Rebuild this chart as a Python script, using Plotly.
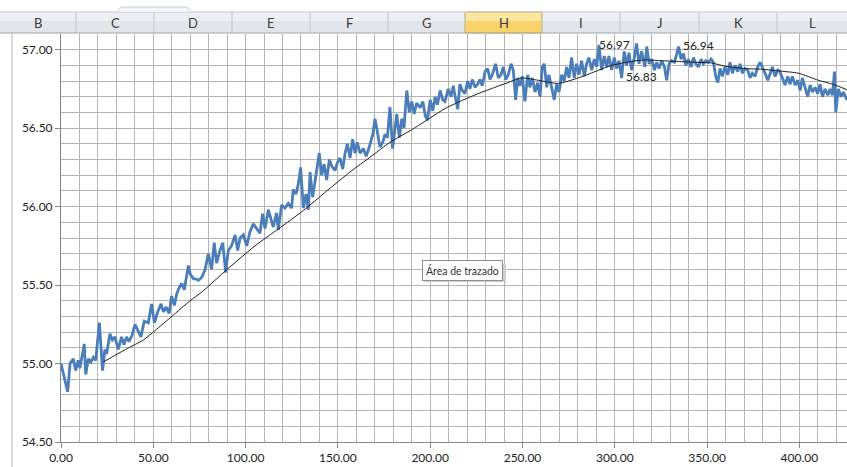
import plotly.graph_objects as go

# ---------------- data ----------------
blue_x = [0, 3.6, 4.9, 6.7, 7.9, 9.3, 10.2, 12.6, 13.4, 14.8, 16.2, 17.5, 18.8, 20.8, 22.5, 23.8, 24.7,
          26.5, 27.8, 29.2, 31, 32.8, 34.1, 35.5, 36.8, 38.5, 40.1, 41.9, 43.3, 45.1, 47.3, 49.1, 50.6,
          52.4, 54.2, 55.5, 57, 58.6, 59.9, 61.4, 62.6, 63.9, 65.4, 66.8, 68.1, 69, 70, 71.8, 73, 74.5,
          76.3, 78.1, 79.8, 81.6, 83, 84.3, 86.1, 87.6, 89.2, 90.6, 92.4, 94.3, 95.7, 97, 98.8, 100.6,
          102.4, 104.2, 106, 107.8, 109.2, 110.5, 112.3, 113.5, 115, 116.8, 117.7, 119.5, 121.3, 123.1,
          124.9, 125.8, 127.3, 128.5, 129.8, 131.3, 132.7, 134, 134.9, 136.3, 137.6, 139.9, 141.2, 142.5,
          143.9, 145.4, 146.6, 148.4, 149.7, 151.1, 152.6, 153.9, 155.1, 156.6, 158, 159.3, 160.5, 162,
          163.8, 165.3, 167, 168.9, 170.1, 171.4, 172.8, 174.3, 175.5, 176.8, 178.2, 179.6, 181, 181.9,
          183.3, 184.6, 185.8, 187.3, 188.7, 190, 191.3, 192.7, 194.5, 196, 197.3, 198.5, 200, 201.4,
          202.7, 203.9, 205.4, 206.8,
          208, 209.8, 211.3, 212.5, 213.4, 214.9, 216.1, 217.4, 218.8, 220.3, 221.5, 222.8, 224.3, 225.7,
          227, 228.2, 229.7, 231.1, 232.4, 233.6, 235.4, 236.9, 238.3, 239.6, 240.9, 242.3, 243.8, 245,
          246.3, 247.4, 248.6, 249.9, 251.3, 252.8, 254, 255.3, 256.8, 258.2, 259.5, 260.7, 261.8, 263.1,
          264.3, 265.8, 267.2, 268.5, 269.8, 271.2, 272.6, 273.9, 275.2, 276.6, 278, 279.3, 280.6, 282,
          283.5, 284.7, 286, 287.5, 288.9, 290.2, 291.4, 292.9, 294.3, 295.6, 296.8, 298.3, 299.7, 301,
          302.3, 303.7, 305.1, 306.4, 307.7, 309.1, 310.6, 311.8, 313.1, 314.5, 316.3,
          317.3, 318.6, 320, 321.5, 322.7, 324, 325.4, 326.9, 328.1, 329.4, 330.8, 332.3, 333.6, 334.5,
          335.9, 337.2, 338.4, 339.9, 341.3, 342.6, 343.9, 345.3, 346.7, 348, 349.3, 350.7, 352.2, 353.4,
          354.7, 355.8, 357, 358.3, 359.7, 361.2, 362.4, 363.7, 365.2, 366.6, 367.9, 369.1, 370.6, 372,
          373.3, 374.5, 376, 377.4, 378.7, 380, 381.4, 382.9, 384.1, 385.4, 386.8, 388.3, 389.5, 390.8,
          392.2, 393.7, 394.9, 396.2, 397.7, 399.1, 400.4, 401.6, 403.1, 404.5, 405.8, 407.1, 408.5,
          409.9, 411.2, 412.5, 413.9, 415.4, 416.6, 417.9, 419, 419.7, 421.1, 422.6, 423.8, 425.1, 425.8]

blue_y = [55.00, 54.82, 55.00, 55.03, 54.955, 55.02, 54.97, 55.125, 54.93, 55.03, 55.01, 55.04, 55.02,
          55.26, 54.955, 55.09, 55.06, 55.19, 55.15, 55.17, 55.09, 55.17, 55.12, 55.17, 55.14, 55.18,
          55.25, 55.21, 55.17, 55.27, 55.26, 55.38, 55.26, 55.33, 55.38, 55.33, 55.36, 55.32, 55.43,
          55.37, 55.44, 55.48, 55.51, 55.47, 55.55, 55.625, 55.57, 55.54, 55.54, 55.53, 55.55, 55.60,
          55.70, 55.60, 55.77, 55.64, 55.72, 55.77, 55.58, 55.72, 55.75, 55.82, 55.72, 55.80, 55.82,
          55.75, 55.84,
          55.89, 55.86, 55.83, 55.955, 55.86, 55.98, 55.93, 55.87, 55.96, 55.85, 56.01, 55.99, 56.02,
          55.99, 56.11, 56.08, 56.14, 56.25, 55.99, 56.08, 55.98, 56.22, 56.06, 56.16, 56.34, 56.20,
          56.27, 56.17, 56.30, 56.26, 56.23, 56.28, 56.31, 56.24, 56.34, 56.40, 56.31, 56.43, 56.34,
          56.41, 56.34, 56.37, 56.32, 56.38, 56.46, 56.56, 56.46, 56.38, 56.41, 56.46, 56.44, 56.635,
          56.37, 56.50, 56.59, 56.44, 56.56, 56.50, 56.74, 56.60, 56.67, 56.59, 56.66, 56.63, 56.67,
          56.58, 56.55, 56.68, 56.61, 56.70, 56.65, 56.74, 56.68,
          56.67, 56.75, 56.70, 56.77, 56.71, 56.62, 56.78, 56.74, 56.72, 56.80, 56.75, 56.81, 56.76,
          56.78, 56.81, 56.77, 56.86, 56.88, 56.81, 56.84, 56.91, 56.82, 56.84, 56.89, 56.81, 56.84,
          56.91, 56.87, 56.68, 56.82, 56.77, 56.83, 56.67, 56.84, 56.76, 56.82, 56.73, 56.79, 56.70,
          56.89, 56.91, 56.76, 56.84, 56.75, 56.68, 56.78, 56.73, 56.84, 56.80, 56.89, 56.82, 56.95,
          56.82, 56.91, 56.84, 56.93, 56.83, 56.91, 56.95, 56.87, 56.94, 56.89, 57.03, 56.87, 56.96,
          56.89, 56.96, 56.87, 56.95, 56.88, 56.93, 56.82, 56.99, 56.90, 56.98, 56.87, 56.95, 57.04,
          56.91, 56.99, 56.89,
          57.02, 56.91, 56.94, 56.87, 56.92, 56.88, 56.93, 56.89, 56.805, 56.91, 56.93, 56.92, 56.975,
          57.02, 56.94, 56.975, 56.90, 56.94, 56.89, 56.95, 56.91, 56.89, 56.94, 56.91, 56.93, 56.92,
          56.94, 56.92, 56.83, 56.79, 56.88, 56.83, 56.89, 56.84, 56.92, 56.85, 56.90, 56.86, 56.91,
          56.85, 56.88, 56.87, 56.82, 56.85, 56.83, 56.89, 56.92, 56.88, 56.85, 56.805, 56.85, 56.89,
          56.83, 56.87, 56.86, 56.82, 56.775, 56.83, 56.78, 56.83, 56.775, 56.805, 56.74, 56.82, 56.76,
          56.70, 56.775, 56.73, 56.76, 56.72, 56.78, 56.70, 56.75, 56.71, 56.75, 56.71, 56.86, 56.60,
          56.75, 56.70, 56.73, 56.69, 56.68]

# moving-average trend line (black)
ma_x = [22.9, 35, 44.6, 50.9, 60, 69.9, 76.2, 90, 105.1, 118, 131.3, 144, 156.5, 168, 178.2, 190,
        200, 208, 217, 226, 235, 242, 249.5, 258.6, 269.4, 280.2, 289.3, 298.3, 309, 316.4, 325,
        334.5, 343, 352.5, 359.7, 370.6, 380, 388.6, 399.5, 410.3, 418, 425.8]
ma_y = [55.01, 55.09, 55.15, 55.21, 55.30, 55.40, 55.455, 55.60, 55.75, 55.86, 55.975, 56.10, 56.22,
        56.32, 56.41, 56.49, 56.565, 56.625, 56.675, 56.72, 56.76, 56.79, 56.82, 56.805, 56.785, 56.82,
        56.86, 56.90, 56.925, 56.935, 56.93, 56.925, 56.92, 56.915, 56.895, 56.88, 56.875, 56.865,
        56.85, 56.805, 56.78, 56.745]

label_x = [291.4, 303.7, 337.2]
label_y = [56.97, 56.83, 56.94]
label_text = ["56.97", "56.83", "56.94"]

x_ticks = [0, 50, 100, 150, 200, 250, 300, 350, 400]
y_ticks = [54.5, 55.0, 55.5, 56.0, 56.5, 57.0]
x_tick_text = ["0.00", "50.00", "100.00", "150.00", "200.00", "250.00", "300.00", "350.00", "400.00"]
y_tick_text = ["54.50", "55.00", "55.50", "56.00", "56.50", "57.00"]

columns = ["B", "C", "D", "E", "F", "G", "H", "I", "J", "K", "L"]
selected_column = "H"

# ---------------- layout geometry (pixels) ----------------
W, H = 847, 467
ML, MR, MT, MB = 61, 0, 34, 25
PW, PH = W - ML - MR, H - MT - MB


def fx(px):
    return (px - ML) / PW


def fy(py):
    return (H - MB - py) / PH


col_edges = [0, 76, 154, 232, 310, 388, 465, 542, 620, 699, 777, 847]
hdr_top, hdr_bot = 12, 33

FONT = "Lato, 'Open Sans', sans-serif"

fig = go.Figure()
fig.add_trace(go.Scatter(x=blue_x, y=blue_y, mode="lines",
                         line=dict(color="#4a7ebb", width=2.8), hoverinfo="skip"))
fig.add_trace(go.Scatter(x=ma_x, y=ma_y, mode="lines", line_shape="spline",
                         line=dict(color="#1e1e1e", width=1, smoothing=0.6), hoverinfo="skip"))

shapes = []
annotations = []

# data labels
shifts = [(-2, 10), (2, 0), (-2, 14)]
for lx, ly, lt, (sx, sy) in zip(label_x, label_y, label_text, shifts):
    annotations.append(dict(x=lx, y=ly, xref="x", yref="y", text=lt, showarrow=False,
                            xanchor="left", yanchor="middle", xshift=sx, yshift=sy,
                            font=dict(family=FONT, size=12, color="#222222")))

# spreadsheet column header band
shapes.append(dict(type="rect", xref="paper", yref="paper", x0=fx(0), x1=fx(W),
                   y0=fy(hdr_bot), y1=fy(hdr_top), fillcolor="#e2e6eb",
                   line=dict(width=0), layer="above"))
shapes.append(dict(type="rect", xref="paper", yref="paper", x0=fx(0), x1=fx(W),
                   y0=fy(hdr_top + 9), y1=fy(hdr_top), fillcolor="#eceff3",
                   line=dict(width=0), layer="above"))
for i, c in enumerate(columns):
    x0, x1 = col_edges[i], col_edges[i + 1]
    if c == selected_column:
        shapes.append(dict(type="rect", xref="paper", yref="paper", x0=fx(x0), x1=fx(x1),
                           y0=fy(hdr_bot), y1=fy(hdr_top), fillcolor="#f9d36a",
                           line=dict(color="#e0b24a", width=1), layer="above"))
        shapes.append(dict(type="rect", xref="paper", yref="paper", x0=fx(x0 + 1), x1=fx(x1 - 1),
                           y0=fy(hdr_top + 9), y1=fy(hdr_top + 1), fillcolor="#fde6a0",
                           line=dict(width=0), layer="above"))
    annotations.append(dict(x=fx((x0 + x1) / 2), y=fy((hdr_top + hdr_bot) / 2 + 0.5),
                            xref="paper", yref="paper", text=c, showarrow=False,
                            xanchor="center", yanchor="middle",
                            font=dict(family=FONT, size=13, color="#3a3a3a")))
for e in col_edges[1:-1]:
    shapes.append(dict(type="line", xref="paper", yref="paper", x0=fx(e), x1=fx(e),
                       y0=fy(hdr_bot), y1=fy(hdr_top), line=dict(color="#bfc5cc", width=1),
                       layer="above"))
shapes.append(dict(type="line", xref="paper", yref="paper", x0=fx(0), x1=fx(W),
                   y0=fy(hdr_top), y1=fy(hdr_top), line=dict(color="#c2c7cd", width=1), layer="above"))
shapes.append(dict(type="line", xref="paper", yref="paper", x0=fx(0), x1=fx(W),
                   y0=fy(hdr_bot), y1=fy(hdr_bot), line=dict(color="#9ea6b0", width=1), layer="above"))
# small tab above the header
shapes.append(dict(type="path", xref="paper", yref="paper",
                   path="M {} {} L {} {} L {} {} L {} {}".format(
                       fx(117), fy(12), fx(121), fy(7), fx(187), fy(7), fx(191), fy(12)),
                   line=dict(color="#c8ccd2", width=1), fillcolor="#f4f5f7", layer="above"))
# left border line of the sheet area
shapes.append(dict(type="line", xref="paper", yref="paper", x0=fx(12), x1=fx(12),
                   y0=fy(H), y1=fy(hdr_bot), line=dict(color="#b8b8b8", width=1), layer="above"))

# "Área de trazado" tooltip
shapes.append(dict(type="rect", xref="paper", yref="paper", x0=fx(424), x1=fx(506),
                   y0=fy(282), y1=fy(264), fillcolor="#cfcfcf", line=dict(width=0), layer="above"))
annotations.append(dict(x=fx(462), y=fy(270), xref="paper", yref="paper",
                        text="Área de trazado", showarrow=False,
                        xanchor="center", yanchor="middle",
                        bgcolor="#ffffff", bordercolor="#8e8e8e", borderwidth=1, borderpad=3,
                        font=dict(family=FONT, size=10.5, color="#333333")))

fig.update_layout(
    width=W, height=H,
    margin=dict(l=ML, r=MR, t=MT, b=MB, pad=0),
    paper_bgcolor="white", plot_bgcolor="white",
    showlegend=False,
    shapes=shapes, annotations=annotations,
    xaxis=dict(range=[0, PW / 1.846], tickvals=x_ticks, ticktext=x_tick_text,
               showgrid=True, gridcolor="#b4b4b4", gridwidth=1,
               minor=dict(dtick=10, tick0=0, showgrid=True, gridcolor="#b4b4b4", gridwidth=1),
               showline=True, linecolor="#868686", linewidth=1,
               ticks="outside", ticklen=5, tickcolor="#868686",
               zeroline=False, fixedrange=True,
               tickfont=dict(family=FONT, size=12, color="#222222")),
    yaxis=dict(range=[54.5, 57.1], tickvals=y_ticks, ticktext=y_tick_text,
               showgrid=True, gridcolor="#b4b4b4", gridwidth=1,
               minor=dict(dtick=0.1, tick0=54.5, showgrid=True, gridcolor="#b4b4b4", gridwidth=1),
               showline=True, linecolor="#868686", linewidth=1,
               ticks="outside", ticklen=5, tickcolor="#868686",
               zeroline=False, fixedrange=True,
               tickfont=dict(family=FONT, size=12, color="#222222")),
)

fig.write_html("out.html", config={"displayModeBar": False},
               post_script="document.body.style.margin='0';document.body.style.overflow='hidden';")
